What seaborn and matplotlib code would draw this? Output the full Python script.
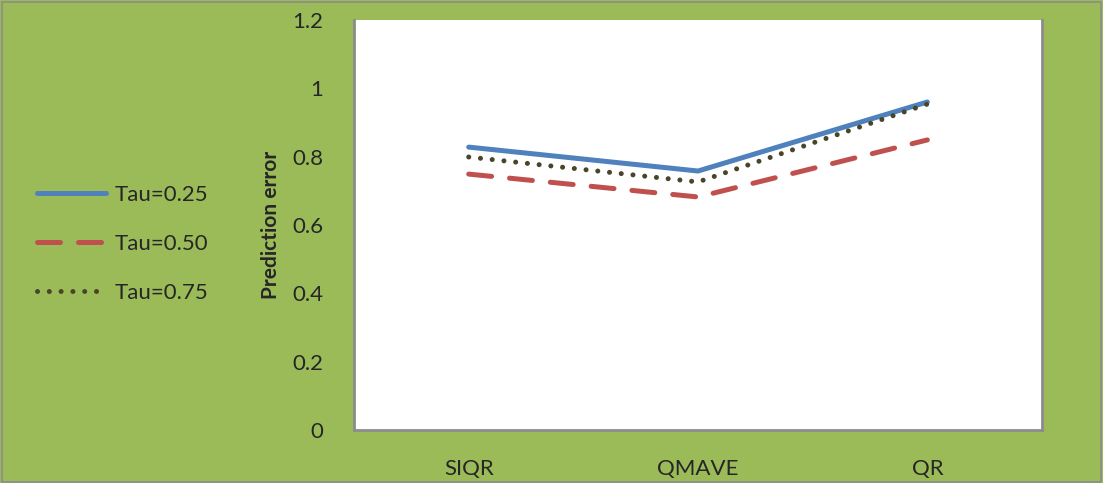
import pandas as pd
import matplotlib.pyplot as plt
import seaborn as sns
from matplotlib.patches import Rectangle

# values
methods = ['SIQR', 'QMAVE', 'QR']
tau_025 = [0.828, 0.758, 0.960]
tau_050 = [0.749, 0.682, 0.849]
tau_075 = [0.799, 0.726, 0.954]
series_names = ['Tau=0.25', 'Tau=0.50', 'Tau=0.75']
y_ticks = [0, 0.2, 0.4, 0.6, 0.8, 1.0, 1.2]
y_tick_labels = ['0', '0.2', '0.4', '0.6', '0.8', '1', '1.2']

sns.set_style('white')
plt.rcParams['font.family'] = ['Lato', 'DejaVu Sans']

df = pd.DataFrame({
    'method': methods * 3,
    'error': tau_025 + tau_050 + tau_075,
    'tau': [n for n in series_names for _ in methods],
})

green = '#9BBB59'
fig = plt.figure(figsize=(11.03, 4.83), dpi=100, facecolor=green)
ax = fig.add_axes([0.321, 0.1097, 0.6237, 0.8489])
ax.set_facecolor('white')

palette = {'Tau=0.25': '#4F81BD', 'Tau=0.50': '#C0504D', 'Tau=0.75': '#4A4428'}
dashes = {'Tau=0.25': '', 'Tau=0.50': (4.6, 3.6), 'Tau=0.75': (0.01, 2.35)}
sns.lineplot(data=df, x='method', y='error', hue='tau', style='tau',
             palette=palette, dashes=dashes, linewidth=3.6, ax=ax, sort=False)
for line in ax.get_lines():
    line.set_dash_capstyle('round')
    line.set_solid_capstyle('round')

ax.set_xlim(-0.5, 2.5)
ax.set_ylim(0, 1.2)
ax.set_yticks(y_ticks)
ax.set_yticklabels(y_tick_labels)
ax.tick_params(axis='both', length=0, labelsize=16)
ax.tick_params(axis='y', pad=22)
ax.tick_params(axis='x', pad=21)
ax.set_xlabel('')
ax.set_ylabel('Prediction error', fontsize=15, fontweight='bold', labelpad=8)

for side in ['left', 'bottom', 'right']:
    ax.spines[side].set_color('#8C8C8C')
    ax.spines[side].set_linewidth(2)
ax.spines['top'].set_visible(False)

handles, labels = ax.get_legend_handles_labels()
for h in handles:
    h.set_dash_capstyle('round')
    h.set_solid_capstyle('round')
fig.legend(handles, labels, loc='center left', bbox_to_anchor=(0.0154, 0.495),
           frameon=False, fontsize=16, handlelength=3.1, labelspacing=1.3,
           handletextpad=0.4)
ax.get_legend().remove()

# thin outer frame around the chart area
fig.patches.append(Rectangle((0.002, 0.002), 0.996, 0.994, transform=fig.transFigure,
                             fill=False, edgecolor='#8C8C8C', linewidth=1.2))

fig.savefig('out.png', dpi=100, facecolor=green)
plt.close(fig)
